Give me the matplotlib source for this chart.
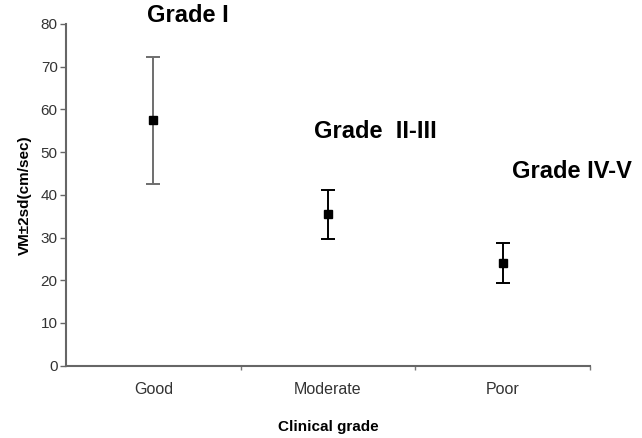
import matplotlib
matplotlib.use("Agg")
import matplotlib.pyplot as plt
from matplotlib import font_manager
import numpy as np

plt.rcParams['font.family'] = ['Liberation Sans', 'DejaVu Sans']
names = {f.name for f in font_manager.fontManager.ttflist}
narrow = ['Liberation Sans Narrow', 'Liberation Sans'] if 'Liberation Sans Narrow' in names else ['Liberation Sans']

categories = ["Good", "Moderate", "Poor"]
means = [57.5, 35.6, 24.0]
lower = [42.6, 29.6, 19.3]
upper = [72.2, 41.2, 28.7]
grade_labels = ["Grade I", "Grade  II-III", "Grade IV-V"]
y_ticks = [0, 10, 20, 30, 40, 50, 60, 70, 80]

fig = plt.figure(figsize=(6.42, 4.38), dpi=100)
ax = fig.add_axes([66/642, 1-365.7/438, (590-66)/642, (365.7-24)/438])

x = np.arange(len(categories)) + 0.5
colors = ["#6e6e6e", "black", "black"]
for i in range(len(categories)):
    yerr = [[means[i]-lower[i]], [upper[i]-means[i]]]
    ax.errorbar([x[i]], [means[i]], yerr=yerr, fmt='s', color=colors[i],
                mfc='black', mec='black', markersize=6, capsize=5,
                elinewidth=1.4, capthick=1.4)

ax.set_xlim(0, 3)
ax.set_ylim(0, 80)
ax.set_yticks(y_ticks)
ax.set_xticks([1, 2, 3])
ax.set_xticklabels([])
ax.set_xticks(x, minor=True)
ax.set_xticklabels(categories, minor=True)
ax.tick_params(axis='x', which='minor', length=0, pad=12, colors='#333333')
ax.tick_params(axis='x', which='major', length=3, width=1, color='#777777')
ax.tick_params(axis='y', length=4, width=1, color='#666666', labelcolor='#333333', pad=2)
for lab in ax.get_xticklabels(minor=True):
    lab.set_fontfamily(narrow)
    lab.set_fontsize(11.5)
for lab in ax.get_yticklabels():
    lab.set_fontfamily(narrow)
    lab.set_fontsize(11)
for s in ['top', 'right']:
    ax.spines[s].set_visible(False)
for s in ['left', 'bottom']:
    ax.spines[s].set_color('#666666')
    ax.spines[s].set_linewidth(1.5)

ax.set_ylabel("VM±2sd(cm/sec)", fontsize=11, fontweight='bold', family=narrow, labelpad=6)
ax.set_xlabel("Clinical grade", fontsize=11, fontweight='bold', family=narrow, labelpad=16)

fig.text(188/642, 1-16/438, grade_labels[0], fontsize=17, fontweight='bold', ha='center', va='center')
fig.text(375/642, 1-131/438, grade_labels[1], fontsize=17, fontweight='bold', ha='center', va='center')
fig.text(572/642, 1-171/438, grade_labels[2], fontsize=17, fontweight='bold', ha='center', va='center')

fig.savefig("out.png", dpi=100)
